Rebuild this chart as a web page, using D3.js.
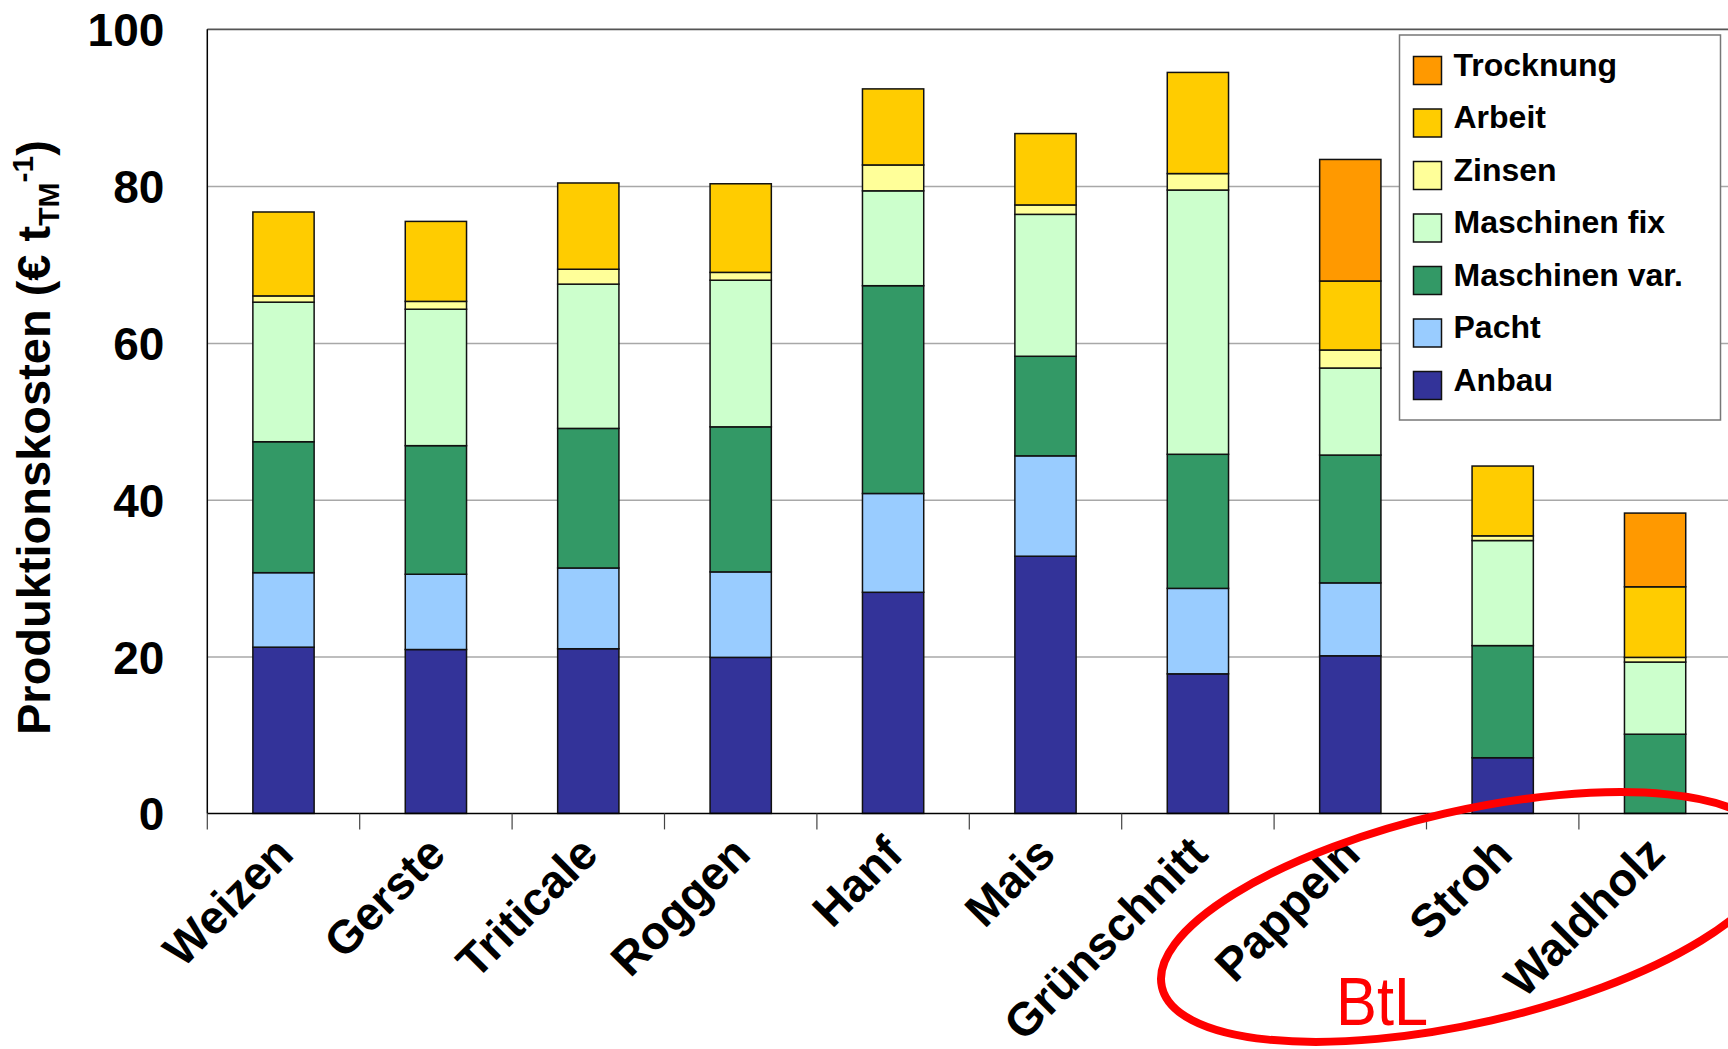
<!DOCTYPE html>
<html>
<head>
<meta charset="utf-8">
<script src="https://cdn.jsdelivr.net/npm/d3@7"></script>
<style>
    body { margin: 0; background: #fff; }
    svg { display: block; }
</style>
</head>
<body>
<div class="chart"></div>
<script>
const categories = ['Weizen', 'Gerste', 'Triticale', 'Roggen', 'Hanf', 'Mais', 'Grünschnitt', 'Pappeln', 'Stroh', 'Waldholz'];
const seriesNames = ['Anbau', 'Pacht', 'Maschinen var.', 'Maschinen fix', 'Zinsen', 'Arbeit', 'Trocknung'];

const anbau      = [21.2, 20.9, 21.0, 19.9, 28.2, 32.8, 17.8, 20.1, 7.1, 0];
const pacht      = [9.5, 9.6, 10.3, 10.9, 12.6, 12.8, 10.9, 9.3, 0, 0];
const maschVar   = [16.7, 16.4, 17.8, 18.5, 26.5, 12.7, 17.1, 16.3, 14.3, 10.1];
const maschFix   = [17.8, 17.4, 18.4, 18.7, 12.1, 18.1, 33.7, 11.1, 13.4, 9.2];
const zinsen     = [0.8, 1.0, 1.9, 1.0, 3.3, 1.2, 2.1, 2.3, 0.6, 0.6];
const arbeit     = [10.7, 10.2, 11.0, 11.3, 9.7, 9.1, 12.9, 8.8, 8.9, 9.0];
const trocknung  = [0, 0, 0, 0, 0, 0, 0, 15.5, 0, 9.4];

const yTicks = [0, 20, 40, 60, 80, 100];
const yTitle = 'Produktionskosten (€ t';
const note = 'BtL';

function draw_chart() {
    const width = 1728, height = 1049;
    const margin = {top: 29.3, left: 207.3, bottom: 1049 - 813.4};
    const plotRight = 207.3 + 152.4 * categories.length;

    let svg = d3.select('.chart')
        .append('svg')
        .attr('width', width)
        .attr('height', height)
        .attr('font-family', 'Liberation Sans, Arial, sans-serif');

    let values = [anbau, pacht, maschVar, maschFix, zinsen, arbeit, trocknung];
    let data = categories.map((c, i) => {
        let row = {cat: c};
        seriesNames.forEach((s, j) => row[s] = values[j][i]);
        return row;
    });

    let x = d3.scaleBand()
        .domain(categories)
        .range([margin.left, plotRight]);

    let y = d3.scaleLinear()
        .domain([0, 100])
        .range([height - margin.bottom, margin.top]);

    let color = d3.scaleOrdinal()
        .domain(seriesNames)
        .range(['#333399', '#99ccff', '#339966', '#ccffcc', '#ffff99', '#ffcc00', '#ff9900']);

    // gridlines
    svg.append('g')
        .attr('transform', `translate(${margin.left}, 0)`)
        .call(d3.axisLeft(y).tickValues(yTicks.slice(1)).tickSize(-(plotRight - margin.left)).tickFormat(''))
        .call(g => g.select('.domain').remove())
        .call(g => g.selectAll('line').attr('stroke', '#a8a8a8').attr('stroke-width', 1.5));

    svg.append('line')
        .attr('x1', margin.left).attr('x2', plotRight)
        .attr('y1', y(100)).attr('y2', y(100))
        .attr('stroke', '#555').attr('stroke-width', 1.5);

    let stacked = d3.stack().keys(seriesNames)(data);
    let barW = x.bandwidth() * 0.402;

    svg.append('g')
        .selectAll('g')
        .data(stacked)
        .join('g')
        .attr('fill', d => color(d.key))
        .selectAll('rect')
        .data(d => d)
        .join('rect')
        .attr('x', d => x(d.data.cat) + (x.bandwidth() - barW) / 2)
        .attr('y', d => y(d[1]))
        .attr('width', barW)
        .attr('height', d => y(d[0]) - y(d[1]))
        .attr('stroke', '#111')
        .attr('stroke-width', 1.5);

    // axes
    svg.append('line')
        .attr('x1', margin.left).attr('x2', margin.left)
        .attr('y1', y(100)).attr('y2', y(0))
        .attr('stroke', '#000').attr('stroke-width', 1.5);

    svg.append('line')
        .attr('x1', margin.left).attr('x2', plotRight)
        .attr('y1', y(0)).attr('y2', y(0))
        .attr('stroke', '#000').attr('stroke-width', 1.5);

    svg.append('g')
        .selectAll('line')
        .data(categories)
        .join('line')
        .attr('x1', d => x(d)).attr('x2', d => x(d))
        .attr('y1', y(0)).attr('y2', y(0) + 16)
        .attr('stroke', '#444').attr('stroke-width', 1.2);

    svg.append('g')
        .attr('transform', `translate(${margin.left}, 0)`)
        .call(d3.axisLeft(y).tickValues(yTicks).tickSize(0).tickPadding(43))
        .call(g => g.select('.domain').remove())
        .call(g => g.selectAll('text')
            .attr('font-family', 'Liberation Sans, Arial, sans-serif')
            .attr('font-size', 46)
            .attr('font-weight', 'bold')
            .attr('fill', '#000')
            .attr('dy', '0.36em'));

    svg.append('g')
        .attr('font-size', 46.5)
        .attr('font-weight', 'bold')
        .attr('text-anchor', 'end')
        .selectAll('text')
        .data(categories)
        .join('text')
        .attr('transform', d => `translate(${x(d) + x.bandwidth() / 2 + 12}, ${y(0) + 43}) rotate(-45)`)
        .text(d => d);

    let title = svg.append('text')
        .attr('transform', `translate(50, 735) rotate(-90)`)
        .attr('font-size', 47)
        .attr('font-weight', 'bold');
    title.append('tspan').text(yTitle);
    title.append('tspan').attr('font-size', 30).attr('dy', 9).text('TM');
    title.append('tspan').attr('font-size', 30).attr('dy', -26).text('-1');
    title.append('tspan').attr('dy', 17).text(')');

    // legend
    let legend = svg.append('g')
        .attr('transform', 'translate(1399.5, 35)');
    legend.append('rect')
        .attr('width', 321)
        .attr('height', 385)
        .attr('fill', '#fff')
        .attr('stroke', '#777')
        .attr('stroke-width', 1.5);

    let item = legend.selectAll('g')
        .data(seriesNames.slice().reverse())
        .join('g')
        .attr('transform', (d, i) => `translate(14, ${35.5 + i * 52.5})`);
    item.append('rect')
        .attr('y', -14)
        .attr('width', 28)
        .attr('height', 28)
        .attr('fill', d => color(d))
        .attr('stroke', '#111')
        .attr('stroke-width', 1.5);
    item.append('text')
        .attr('x', 40)
        .attr('y', 5)
        .attr('font-size', 32)
        .attr('font-weight', 'bold')
        .text(d => d);

    // BtL marking
    svg.append('ellipse')
        .attr('transform', 'translate(1468, 917) rotate(-12.9)')
        .attr('rx', 314)
        .attr('ry', 106)
        .attr('fill', 'none')
        .attr('stroke', '#ff0000')
        .attr('stroke-width', 8);

    svg.append('text')
        .attr('x', 1336)
        .attr('y', 1025)
        .attr('font-size', 68)
        .attr('textLength', 92)
        .attr('lengthAdjust', 'spacingAndGlyphs')
        .attr('fill', '#ff0000')
        .text(note);
}

draw_chart();
</script>
</body>
</html>
